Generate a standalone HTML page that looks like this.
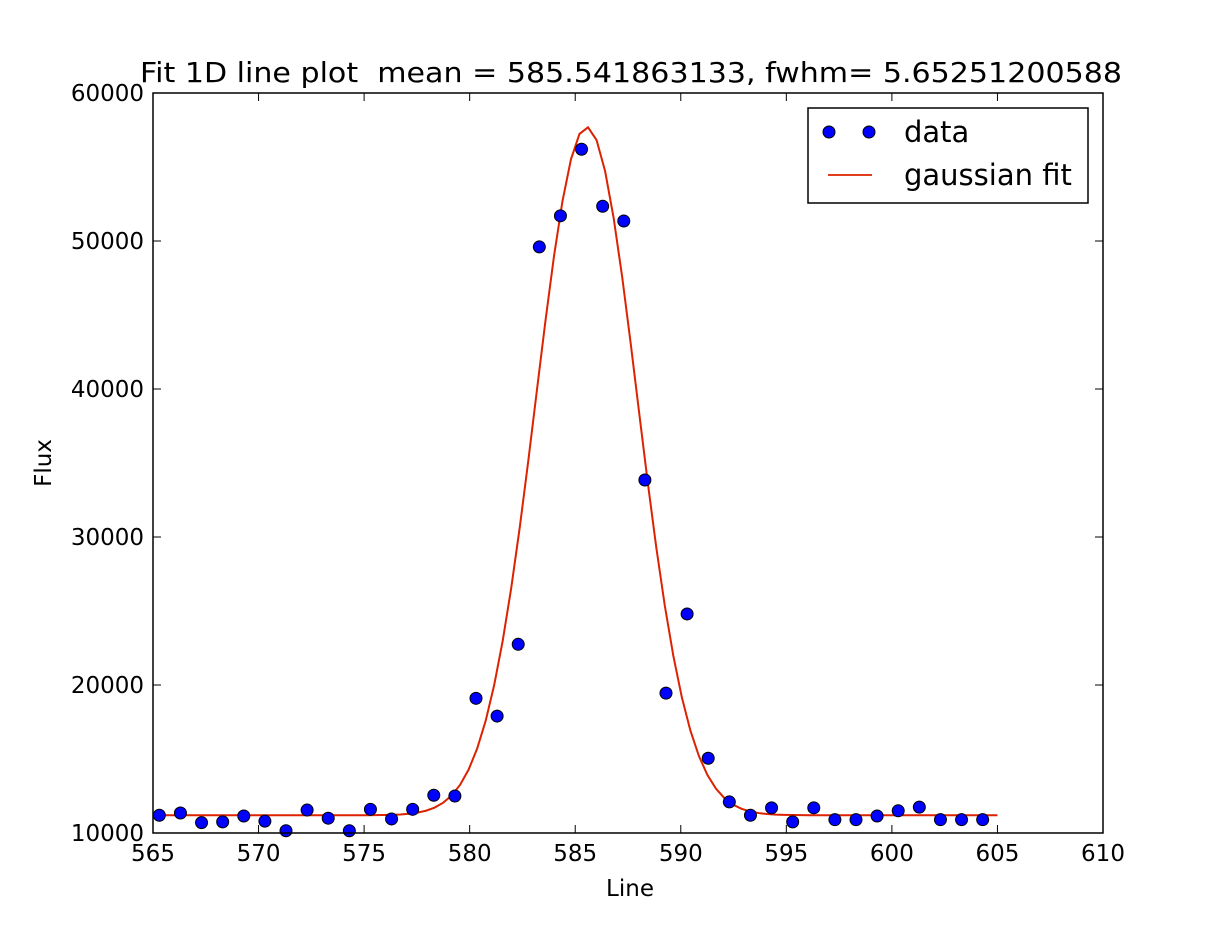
<!DOCTYPE html>
<html><head><meta charset="utf-8"><style>
html,body{margin:0;padding:0;background:#fff;width:1227px;height:927px;overflow:hidden}
svg text{font-family:"DejaVu Sans","Liberation Sans",sans-serif;fill:#000}
</style></head><body>
<svg id="chart" width="1227" height="927" xmlns="http://www.w3.org/2000/svg">
<rect x="0" y="0" width="1227" height="927" fill="#fff"/>
<text x="140" y="82" font-size="28" textLength="982" lengthAdjust="spacingAndGlyphs">Fit 1D line plot&#160; mean = 585.541863133, fwhm= 5.65251200588</text>
<text x="630" y="896" font-size="23" text-anchor="middle">Line</text>
<text x="51" y="463" font-size="23" text-anchor="middle" transform="rotate(-90 51 463)">Flux</text>
<g id="ticks"></g>
<g id="curve"></g>
<g id="points"></g>
<rect x="153" y="93" width="950" height="740" fill="none" stroke="#000" stroke-width="1.5"/>
<g>
<rect x="808" y="108" width="280" height="95" fill="#fff" stroke="#000" stroke-width="1.5"/>
<circle cx="829" cy="132" r="6" fill="#0000ff" stroke="#000" stroke-width="1"/>
<circle cx="869" cy="132" r="6" fill="#0000ff" stroke="#000" stroke-width="1"/>
<text x="904" y="142" font-size="29">data</text>
<line x1="828" y1="175" x2="872" y2="175" stroke="#dd2200" stroke-width="1.8"/>
<text x="904" y="185" font-size="29">gaussian fit</text>
</g>
</svg>
<script>
const xValues=[565.3,566.3,567.3,568.3,569.3,570.3,571.3,572.3,573.3,574.3,575.3,576.3,577.3,578.3,579.3,580.3,581.3,582.3,583.3,584.3,585.3,586.3,587.3,588.3,589.3,590.3,591.3,592.3,593.3,594.3,595.3,596.3,597.3,598.3,599.3,600.3,601.3,602.3,603.3,604.3];
const fluxValues=[11200,11350,10700,10750,11150,10800,10150,11550,11000,10150,11600,10950,11600,12550,12500,19100,17900,22750,49600,51700,56200,52350,51350,33850,19450,24800,15050,12100,11200,11700,10750,11700,10900,10900,11150,11500,11750,10900,10900,10900];
const fitParams=[11200,46500,585.541863133,5.65251200588]; // baseline, amplitude, mean, fwhm
const fitRange=[565,605];
const xTicks=[565,570,575,580,585,590,595,600,605,610];
const yTicks=[10000,20000,30000,40000,50000,60000];
const X0=153,X1=1103,Y0=833,Y1=93;
const sx=v=>X0+(v-565)/(610-565)*(X1-X0);
const sy=v=>Y0-(v-10000)/(60000-10000)*(Y0-Y1);
const NS="http://www.w3.org/2000/svg";
const tg=document.getElementById('ticks');
function mk(t,a,p){const e=document.createElementNS(NS,t);for(const k in a)e.setAttribute(k,a[k]);p.appendChild(e);return e;}
xTicks.forEach(v=>{const x=sx(v);
 const l1=mk('line',{x1:x,y1:Y0,x2:x,y2:Y0-8,stroke:'#000'},tg);
 
 
 const l2=mk('line',{x1:x,y1:Y1,x2:x,y2:Y1+8,stroke:'#000'},tg);
 
 
 const t=mk('text',{x:x,y:Y0+28,'font-size':23,'text-anchor':'middle'},tg);t.textContent=v;
 
 
});
yTicks.forEach(v=>{const y=sy(v);
 const l1=mk('line',{x1:X0,y1:y,x2:X0+8,y2:y,stroke:'#000'},tg);
 
 
 const l2=mk('line',{x1:X1,y1:y,x2:X1-8,y2:y,stroke:'#000'},tg);
 
 
 const t=mk('text',{x:X0-9,y:y+8,'font-size':23,'text-anchor':'end'},tg);t.textContent=v;
 
 
});
const [b,A,mu,fw]=fitParams;const sig=fw/2.35482;
let d='';const N=100;
for(let i=0;i<N;i++){const x=fitRange[0]+(fitRange[1]-fitRange[0])*i/(N-1);
 const y=b+A*Math.exp(-((x-mu)**2)/(2*sig*sig));
 d+=(i?'L':'M')+sx(x).toFixed(2)+','+sy(y).toFixed(2);}
const path=mk('path',{d:d,fill:'none',stroke:'#dd2200','stroke-width':2},document.getElementById('curve'));


const pg=document.getElementById('points');
xValues.forEach((x,i)=>{const c=mk('circle',{cx:sx(x),cy:sy(fluxValues[i]),r:6,fill:'#0000ff',stroke:'#000','stroke-width':1},pg);
 
 
});
</script>
</body></html>
